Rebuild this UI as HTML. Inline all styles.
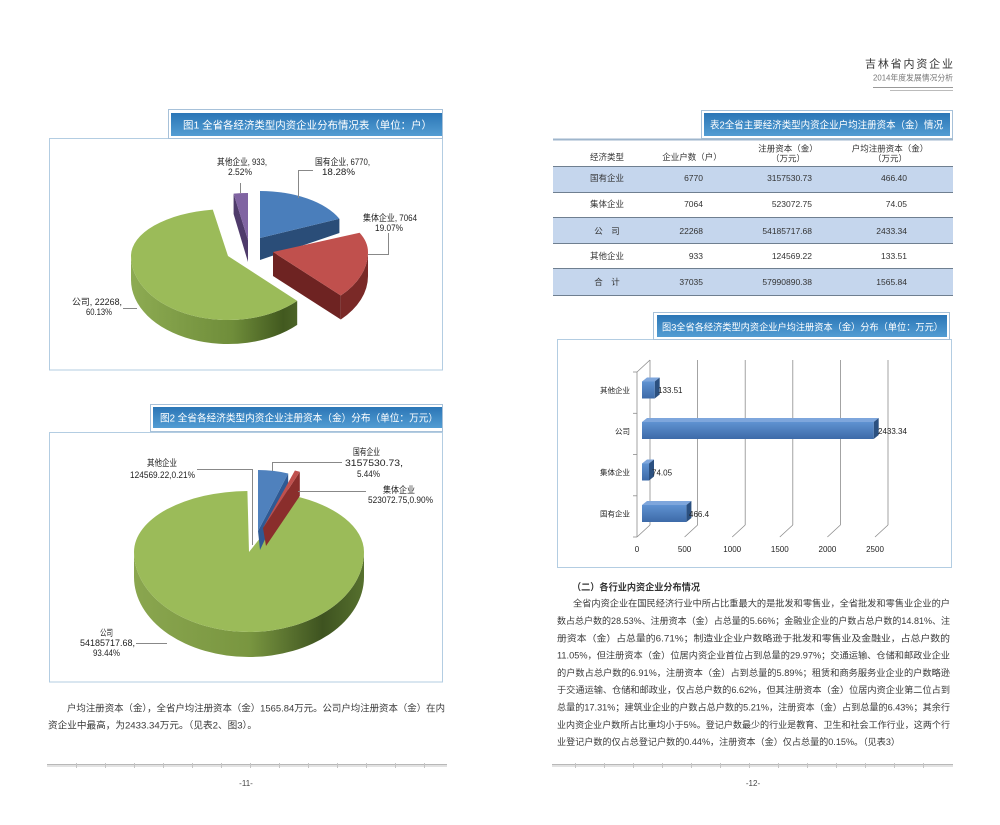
<!DOCTYPE html>
<html><head><meta charset="utf-8">
<style>
html,body{margin:0;padding:0;background:#fff;}
body{width:1000px;height:825px;overflow:hidden;}
svg{display:block;}
text{font-family:"Liberation Sans","Noto Sans CJK SC",sans-serif;}
</style></head>
<body>
<svg width="1000" height="825" viewBox="0 0 1000 825" xmlns="http://www.w3.org/2000/svg">
<defs>
<linearGradient id="band" x1="0" y1="0" x2="0" y2="1">
<stop offset="0" stop-color="#2b76b6"/><stop offset="1" stop-color="#539dd3"/>
</linearGradient>
<linearGradient id="g1side" gradientUnits="userSpaceOnUse" x1="131" y1="0" x2="300" y2="0">
<stop offset="0" stop-color="#8dab52"/><stop offset="0.6" stop-color="#6f8d3a"/><stop offset="0.9" stop-color="#42591f"/><stop offset="1" stop-color="#4d6528"/>
</linearGradient>
<linearGradient id="g2side" gradientUnits="userSpaceOnUse" x1="134" y1="0" x2="364" y2="0">
<stop offset="0" stop-color="#8aa64f"/><stop offset="0.5" stop-color="#799640"/><stop offset="0.82" stop-color="#3e5320"/><stop offset="1" stop-color="#56702e"/>
</linearGradient>
<linearGradient id="barf" x1="0" y1="0" x2="0" y2="1">
<stop offset="0" stop-color="#5f92d1"/><stop offset="1" stop-color="#3d6aa8"/>
</linearGradient>
</defs>

<!-- Header -->
<text x="865" y="67.5" font-size="11" fill="#333" textLength="88" lengthAdjust="spacing">吉林省内资企业</text>
<text x="873" y="80.3" font-size="8" fill="#777" textLength="80" lengthAdjust="spacingAndGlyphs">2014年度发展情况分析</text>
<line x1="873" y1="87.5" x2="953" y2="87.5" stroke="#999" stroke-width="1"/>
<line x1="890" y1="90.5" x2="953" y2="90.5" stroke="#bbb" stroke-width="1"/>

<!-- ============ FIG 1 ============ -->
<rect x="49.5" y="138.5" width="393" height="231.5" fill="#fff" stroke="#b3cde2" stroke-width="1"/>
<rect x="168.5" y="109.5" width="274" height="29" fill="#fff" stroke="#a7c1d9" stroke-width="1"/>
<rect x="171" y="113" width="271" height="23" fill="url(#band)"/>
<text x="183" y="128.5" font-size="10.5" fill="#fff" textLength="249" lengthAdjust="spacingAndGlyphs">图1 全省各经济类型内资企业分布情况表（单位：户）</text>

<!-- purple -->
<path d="M248,240 L233.6,193.6 L233.6,214 L248,262 Z" fill="#4f3b6b"/>
<path d="M248,240 L233.6,193.6 A92,47 0 0 1 248,193 Z" fill="#8064a2"/>
<!-- blue -->
<path d="M260,238 L339.4,218.7 L339.4,233 L260,260 Z" fill="#2a4d78"/>
<path d="M260,238 L260,191 A87,47 0 0 1 339.4,218.7 Z" fill="#4a7ebb"/>
<!-- green -->
<path d="M297.2,300.9 A97,64 0 0 1 131,256 L131,280 A97,64 0 0 0 297.2,324.9 Z" fill="url(#g1side)"/>
<path d="M228,256 L297.2,300.9 A97,64 0 0 1 131,256 A97,47 0 0 1 212.8,209.6 Z" fill="#9bbb59"/>
<!-- red -->
<path d="M273,252 L340.8,295.5 L340.8,319.5 L273,276 Z" fill="#6e2322"/>
<path d="M368,252 A95,62 0 0 1 340.8,295.5 L340.8,319.5 A95,62 0 0 0 368,276 Z" fill="#7a2927"/>
<path d="M273,252 L359.6,232.7 A95,47 0 0 1 368,252 A95,62 0 0 1 340.8,295.5 Z" fill="#c0504d"/>

<!-- leaders fig1 -->
<g stroke="#888" stroke-width="1" fill="none">
<line x1="240.5" y1="183" x2="240.5" y2="193"/>
<polyline points="313,170.5 298.5,170.5 298.5,198"/>
<polyline points="388.5,233 388.5,254.5 368,254.5"/>
<line x1="123" y1="308.5" x2="137" y2="308.5"/>
</g>
<g font-size="9" fill="#222">
<text x="217" y="165" textLength="50" lengthAdjust="spacingAndGlyphs">其他企业, 933,</text>
<text x="228" y="175" textLength="24" lengthAdjust="spacingAndGlyphs">2.52%</text>
<text x="315" y="165" textLength="55" lengthAdjust="spacingAndGlyphs">国有企业, 6770,</text>
<text x="322" y="175" textLength="33" lengthAdjust="spacingAndGlyphs">18.28%</text>
<text x="363" y="221" textLength="54" lengthAdjust="spacingAndGlyphs">集体企业, 7064</text>
<text x="375" y="231" textLength="28" lengthAdjust="spacingAndGlyphs">19.07%</text>
<text x="72" y="305" textLength="50" lengthAdjust="spacingAndGlyphs">公司, 22268,</text>
<text x="86" y="315" textLength="26" lengthAdjust="spacingAndGlyphs">60.13%</text>
</g>

<!-- ============ FIG 2 ============ -->
<rect x="49.5" y="432.5" width="393" height="249.5" fill="#fff" stroke="#b3cde2" stroke-width="1"/>
<rect x="150.5" y="404.5" width="292" height="27" fill="#fff" stroke="#a7c1d9" stroke-width="1"/>
<rect x="153" y="407" width="289" height="21" fill="url(#band)"/>
<text x="160" y="421.5" font-size="10" fill="#fff" textLength="278" lengthAdjust="spacingAndGlyphs">图2 全省各经济类型内资企业注册资本（金）分布（单位：万元）</text>

<path d="M364,552 A115,80 0 0 1 249,632 A115,80 0 0 1 134,552 L134,577 A115,80 0 0 0 249,657 A115,80 0 0 0 364,577 Z" fill="url(#g2side)"/>
<path d="M249,552 L293.6,495.8 A115,61 0 0 1 364,552 A115,80 0 0 1 249,632 A115,80 0 0 1 134,552 A115,61 0 0 1 247.4,491 Z" fill="#9bbb59"/>
<path d="M258,531 L288.2,473.5 L288.2,490 L260,550 Z" fill="#2f5a94"/>
<path d="M258,531 L258,470 A90,61 0 0 1 288.2,473.5 Z" fill="#4f81bd"/>
<path d="M263,528 L299.8,471.8 L299.8,496 L266,546 Z" fill="#8a2e2c"/>
<path d="M263,528 L294.9,470.5 L299.8,471.8 Z" fill="#c0504d"/>

<g stroke="#888" stroke-width="1" fill="none">
<polyline points="197,469.5 252.5,469.5 252.5,545"/>
<polyline points="342,462.5 272.5,462.5 272.5,471"/>
<line x1="298" y1="491.5" x2="366" y2="491.5"/>
<line x1="136" y1="643.5" x2="167" y2="643.5"/>
</g>
<g font-size="9" fill="#222">
<text x="353" y="455" textLength="27" lengthAdjust="spacingAndGlyphs">国有企业</text>
<text x="345" y="466" textLength="58" lengthAdjust="spacingAndGlyphs">3157530.73,</text>
<text x="357" y="477" textLength="23" lengthAdjust="spacingAndGlyphs">5.44%</text>
<text x="383" y="493" textLength="32" lengthAdjust="spacingAndGlyphs">集体企业</text>
<text x="368" y="503" textLength="65" lengthAdjust="spacingAndGlyphs">523072.75,0.90%</text>
<text x="147" y="466" textLength="30" lengthAdjust="spacingAndGlyphs">其他企业</text>
<text x="130" y="478" textLength="65" lengthAdjust="spacingAndGlyphs">124569.22,0.21%</text>
<text x="100" y="636" textLength="13" lengthAdjust="spacingAndGlyphs">公司</text>
<text x="80" y="646" textLength="55" lengthAdjust="spacingAndGlyphs">54185717.68,</text>
<text x="93" y="656" textLength="27" lengthAdjust="spacingAndGlyphs">93.44%</text>
</g>

<!-- left body text -->
<g font-size="9.5" fill="#3a3a3a">
<text x="67" y="711.5" textLength="378" lengthAdjust="spacingAndGlyphs">户均注册资本（金），全省户均注册资本（金）1565.84万元。公司户均注册资本（金）在内</text>
<text x="48" y="728.5" textLength="209" lengthAdjust="spacingAndGlyphs">资企业中最高，为2433.34万元。（见表2、图3）。</text>
</g>

<!-- ============ TABLE 2 ============ -->
<rect x="701.5" y="110.5" width="251" height="28" fill="#fff" stroke="#a7c1d9" stroke-width="1"/>
<rect x="704" y="113" width="246" height="23" fill="url(#band)"/>
<text x="710" y="128.5" font-size="10" fill="#fff" textLength="233" lengthAdjust="spacingAndGlyphs">表2全省主要经济类型内资企业户均注册资本（金）情况</text>

<rect x="553" y="167" width="400" height="25" fill="#c5d6ed"/>
<rect x="553" y="217" width="400" height="26" fill="#c5d6ed"/>
<rect x="553" y="268" width="400" height="27" fill="#c5d6ed"/>
<g stroke="#6f7f90" stroke-width="1">
<line x1="553" y1="139.5" x2="953" y2="139.5" stroke="#9fb6cc" stroke-width="2"/>
<line x1="553" y1="166.5" x2="953" y2="166.5"/>
<line x1="553" y1="192.5" x2="953" y2="192.5"/>
<line x1="553" y1="217.5" x2="953" y2="217.5"/>
<line x1="553" y1="243.5" x2="953" y2="243.5"/>
<line x1="553" y1="268.5" x2="953" y2="268.5"/>
<line x1="553" y1="295.5" x2="953" y2="295.5"/>
</g>
<g font-size="8.5" fill="#333">
<text x="607" y="160" text-anchor="middle">经济类型</text>
<text x="692" y="160" text-anchor="middle">企业户数（户）</text>
<text x="788" y="151.3" text-anchor="middle">注册资本（金）</text>
<text x="788" y="161.3" text-anchor="middle">（万元）</text>
<text x="890" y="151.3" text-anchor="middle">户均注册资本（金）</text>
<text x="890" y="161.3" text-anchor="middle">（万元）</text>

<text x="607" y="181" text-anchor="middle">国有企业</text>
<text x="703" y="181" text-anchor="end">6770</text>
<text x="812" y="181" text-anchor="end">3157530.73</text>
<text x="907" y="181" text-anchor="end">466.40</text>

<text x="607" y="207" text-anchor="middle">集体企业</text>
<text x="703" y="207" text-anchor="end">7064</text>
<text x="812" y="207" text-anchor="end">523072.75</text>
<text x="907" y="207" text-anchor="end">74.05</text>

<text x="607" y="234" text-anchor="middle">公　司</text>
<text x="703" y="234" text-anchor="end">22268</text>
<text x="812" y="234" text-anchor="end">54185717.68</text>
<text x="907" y="234" text-anchor="end">2433.34</text>

<text x="607" y="259" text-anchor="middle">其他企业</text>
<text x="703" y="259" text-anchor="end">933</text>
<text x="812" y="259" text-anchor="end">124569.22</text>
<text x="907" y="259" text-anchor="end">133.51</text>

<text x="607" y="285" text-anchor="middle">合　计</text>
<text x="703" y="285" text-anchor="end">37035</text>
<text x="812" y="285" text-anchor="end">57990890.38</text>
<text x="907" y="285" text-anchor="end">1565.84</text>
</g>

<!-- ============ FIG 3 ============ -->
<rect x="557.5" y="339.5" width="394" height="228" fill="#fff" stroke="#b3cde2" stroke-width="1"/>
<rect x="653.5" y="312.5" width="296" height="27" fill="#fff" stroke="#a7c1d9" stroke-width="1"/>
<rect x="657" y="315" width="290" height="22" fill="url(#band)"/>
<text x="662" y="330.5" font-size="9.5" fill="#fff" textLength="281" lengthAdjust="spacingAndGlyphs">图3全省各经济类型内资企业户均注册资本（金）分布（单位：万元）</text>

<g stroke="#8c8c8c" stroke-width="0.8" fill="none">
<line x1="637" y1="372" x2="637" y2="537"/>
<line x1="637" y1="372" x2="650" y2="360"/>
<line x1="650" y1="360" x2="650" y2="525"/>
<line x1="697.6" y1="360" x2="697.6" y2="525"/>
<line x1="745.2" y1="360" x2="745.2" y2="525"/>
<line x1="792.8" y1="360" x2="792.8" y2="525"/>
<line x1="840.4" y1="360" x2="840.4" y2="525"/>
<line x1="888" y1="360" x2="888" y2="525"/>
<line x1="637" y1="537" x2="650" y2="525"/>
<line x1="684.6" y1="537" x2="697.6" y2="525"/>
<line x1="732.2" y1="537" x2="745.2" y2="525"/>
<line x1="779.8" y1="537" x2="792.8" y2="525"/>
<line x1="827.4" y1="537" x2="840.4" y2="525"/>
<line x1="875" y1="537" x2="888" y2="525"/>
<line x1="633" y1="372" x2="637" y2="372"/>
<line x1="633" y1="413.3" x2="637" y2="413.3"/>
<line x1="633" y1="454.5" x2="637" y2="454.5"/>
<line x1="633" y1="495.8" x2="637" y2="495.8"/>
<line x1="633" y1="537" x2="637" y2="537"/>
</g>

<!-- bars -->
<g>
<!-- 其他企业 yc=390, E=654.7 -->
<polygon points="642,381.5 654.7,381.5 659.7,377.5 647,377.5" fill="#7ea6dc"/>
<polygon points="654.7,381.5 659.7,377.5 659.7,394.5 654.7,398.5" fill="#2b5080"/>
<rect x="642" y="381.5" width="12.7" height="17" fill="url(#barf)"/>
<!-- 公司 yc=430.5, E=873.7 -->
<polygon points="642,422 873.7,422 878.7,418 647,418" fill="#7ea6dc"/>
<polygon points="873.7,422 878.7,418 878.7,435 873.7,439" fill="#2b5080"/>
<rect x="642" y="422" width="231.7" height="17" fill="url(#barf)"/>
<!-- 集体企业 yc=472, E=649 -->
<polygon points="642,463.5 649,463.5 654,459.5 647,459.5" fill="#7ea6dc"/>
<polygon points="649,463.5 654,459.5 654,476.5 649,480.5" fill="#2b5080"/>
<rect x="642" y="463.5" width="7" height="17" fill="url(#barf)"/>
<!-- 国有企业 yc=513.5, E=686.4 -->
<polygon points="642,505 686.4,505 691.4,501 647,501" fill="#7ea6dc"/>
<polygon points="686.4,505 691.4,501 691.4,518 686.4,522" fill="#2b5080"/>
<rect x="642" y="505" width="44.4" height="17" fill="url(#barf)"/>
</g>

<g font-size="8" fill="#222">
<text x="658" y="393">133.51</text>
<text x="878" y="434">2433.34</text>
<text x="652" y="475.5">74.05</text>
<text x="689" y="517">466.4</text>
</g>
<g font-size="7.5" fill="#222" text-anchor="end">
<text x="630" y="393">其他企业</text>
<text x="630" y="434">公司</text>
<text x="630" y="475">集体企业</text>
<text x="630" y="516.5">国有企业</text>
</g>
<g font-size="8" fill="#222" text-anchor="middle">
<text x="637" y="552">0</text>
<text x="684.6" y="552">500</text>
<text x="732.2" y="552">1000</text>
<text x="779.8" y="552">1500</text>
<text x="827.4" y="552">2000</text>
<text x="875" y="552">2500</text>
</g>

<!-- right body text -->
<text x="572" y="590.5" font-size="9.5" font-weight="bold" fill="#333" textLength="128" lengthAdjust="spacingAndGlyphs">（二）各行业内资企业分布情况</text>
<g font-size="9" fill="#3a3a3a">
<text x="573" y="606.7" textLength="377" lengthAdjust="spacingAndGlyphs">全省内资企业在国民经济行业中所占比重最大的是批发和零售业，全省批发和零售业企业的户</text>
<text x="557" y="624" textLength="393" lengthAdjust="spacingAndGlyphs">数占总户数的28.53%、注册资本（金）占总量的5.66%；金融业企业的户数占总户数的14.81%、注</text>
<text x="557" y="641.3" textLength="393" lengthAdjust="spacingAndGlyphs">册资本（金）占总量的6.71%；制造业企业户数略逊于批发和零售业及金融业，占总户数的</text>
<text x="557" y="658.6" textLength="393" lengthAdjust="spacingAndGlyphs">11.05%，但注册资本（金）位居内资企业首位占到总量的29.97%；交通运输、仓储和邮政业企业</text>
<text x="557" y="675.9" textLength="393" lengthAdjust="spacingAndGlyphs">的户数占总户数的6.91%，注册资本（金）占到总量的5.89%；租赁和商务服务业企业的户数略逊</text>
<text x="557" y="693.2" textLength="393" lengthAdjust="spacingAndGlyphs">于交通运输、仓储和邮政业，仅占总户数的6.62%，但其注册资本（金）位居内资企业第二位占到</text>
<text x="557" y="710.5" textLength="393" lengthAdjust="spacingAndGlyphs">总量的17.31%；建筑业企业的户数占总户数的5.21%，注册资本（金）占到总量的6.43%；其余行</text>
<text x="557" y="727.8" textLength="393" lengthAdjust="spacingAndGlyphs">业内资企业户数所占比重均小于5%。登记户数最少的行业是教育、卫生和社会工作行业，这两个行</text>
<text x="557" y="745.1" textLength="343" lengthAdjust="spacingAndGlyphs">业登记户数的仅占总登记户数的0.44%，注册资本（金）仅占总量的0.15%。（见表3）</text>
</g>

<!-- footers -->
<rect x="47" y="764" width="400" height="3" fill="#e2e2e2"/>
<line x1="47" y1="764.5" x2="447" y2="764.5" stroke="#b8b8b8" stroke-width="1"/>
<rect x="552" y="764" width="401" height="3" fill="#e2e2e2"/>
<line x1="552" y1="764.5" x2="953" y2="764.5" stroke="#b8b8b8" stroke-width="1"/>
<g stroke="#c4c4c4" stroke-width="1">
<line x1="76.5" y1="763" x2="76.5" y2="768"/><line x1="105.5" y1="763" x2="105.5" y2="768"/><line x1="134.5" y1="763" x2="134.5" y2="768"/><line x1="163.5" y1="763" x2="163.5" y2="768"/><line x1="192.5" y1="763" x2="192.5" y2="768"/><line x1="221.5" y1="763" x2="221.5" y2="768"/><line x1="250.5" y1="763" x2="250.5" y2="768"/><line x1="279.5" y1="763" x2="279.5" y2="768"/><line x1="308.5" y1="763" x2="308.5" y2="768"/><line x1="337.5" y1="763" x2="337.5" y2="768"/><line x1="366.5" y1="763" x2="366.5" y2="768"/><line x1="395.5" y1="763" x2="395.5" y2="768"/><line x1="424.5" y1="763" x2="424.5" y2="768"/>
<line x1="575.5" y1="763" x2="575.5" y2="768"/><line x1="604.5" y1="763" x2="604.5" y2="768"/><line x1="633.5" y1="763" x2="633.5" y2="768"/><line x1="662.5" y1="763" x2="662.5" y2="768"/><line x1="691.5" y1="763" x2="691.5" y2="768"/><line x1="720.5" y1="763" x2="720.5" y2="768"/><line x1="749.5" y1="763" x2="749.5" y2="768"/><line x1="778.5" y1="763" x2="778.5" y2="768"/><line x1="807.5" y1="763" x2="807.5" y2="768"/><line x1="836.5" y1="763" x2="836.5" y2="768"/><line x1="865.5" y1="763" x2="865.5" y2="768"/><line x1="894.5" y1="763" x2="894.5" y2="768"/><line x1="923.5" y1="763" x2="923.5" y2="768"/>
</g>
<text x="246" y="786" font-size="8" fill="#444" text-anchor="middle">-11-</text>
<text x="753" y="786" font-size="8" fill="#444" text-anchor="middle">-12-</text>
</svg>
</body></html>
